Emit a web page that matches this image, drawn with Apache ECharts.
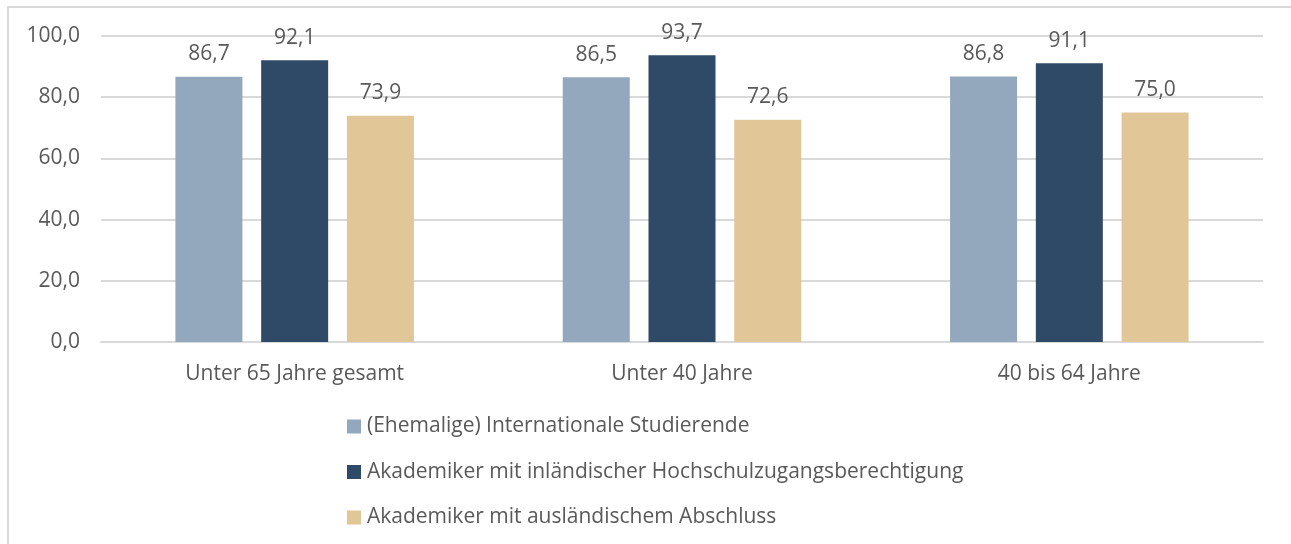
<!DOCTYPE html>
<html>
<head>
<meta charset="utf-8">
<script src="https://cdn.jsdelivr.net/npm/echarts@6/dist/echarts.min.js"></script>
<style>
html,body{margin:0;padding:0;background:#fff;overflow:hidden;}
#frame{position:absolute;left:7px;top:6px;width:1400px;height:700px;border:2px solid #D9D9D9;box-sizing:border-box;}
#chart{position:absolute;left:0;top:0;width:1291px;height:544px;}
</style>
</head>
<body>
<div id="frame"></div>
<div id="chart"></div>
<script>
const categories = ['Unter 65 Jahre gesamt', 'Unter 40 Jahre', '40 bis 64 Jahre'];
const seriesNames = [
  '(Ehemalige) Internationale Studierende',
  'Akademiker mit inländischer Hochschulzugangsberechtigung',
  'Akademiker mit ausländischem Abschluss'
];
const internationaleStudierende = [86.7, 86.5, 86.8];
const inlaendischeHZB = [92.1, 93.7, 91.1];
const auslaendischerAbschluss = [73.9, 72.6, 75.0];
const yTicks = [0, 20, 40, 60, 80, 100];

const colors = ['#94A8BD', '#2E4A66', '#E1C697'];
const textColor = '#595959';
const font = '"Open Sans", "Noto Sans", sans-serif';
const fs = 21;
const fmt = v => v.toFixed(1).replace('.', ',');

const chart = echarts.init(document.getElementById('chart'));
const values = [internationaleStudierende, inlaendischeHZB, auslaendischerAbschluss];
chart.setOption({
  animation: false,
  color: colors,
  grid: {left: 101, right: 28, top: 36, bottom: 202, containLabel: false},
  legend: {
    orient: 'vertical',
    left: 342,
    top: 411,
    itemWidth: 14,
    itemHeight: 14,
    itemGap: 24.5,
    icon: 'rect',
    data: seriesNames,
    textStyle: {color: textColor, fontSize: fs, fontFamily: font, padding: [0, 0, 0, 1]}
  },
  xAxis: {
    type: 'category',
    data: categories,
    axisLine: {lineStyle: {color: '#D9D9D9', width: 2}},
    axisTick: {show: false},
    axisLabel: {color: textColor, fontSize: fs, fontFamily: font, margin: 22}
  },
  yAxis: {
    type: 'value',
    min: yTicks[0],
    max: yTicks[yTicks.length - 1],
    interval: 20,
    axisLine: {show: false},
    axisTick: {show: false},
    splitLine: {lineStyle: {color: '#D9D9D9', width: 2}},
    axisLabel: {color: textColor, fontSize: fs, fontFamily: font, margin: 21, formatter: v => fmt(v)}
  },
  series: seriesNames.map((name, i) => ({
    name: name,
    type: 'bar',
    data: values[i],
    barWidth: 67,
    barGap: '28%',
    label: {
      show: true,
      position: 'top',
      distance: 12,
      color: textColor,
      fontSize: fs,
      fontFamily: font,
      formatter: p => fmt(p.value)
    }
  }))
});
</script>
</body>
</html>
